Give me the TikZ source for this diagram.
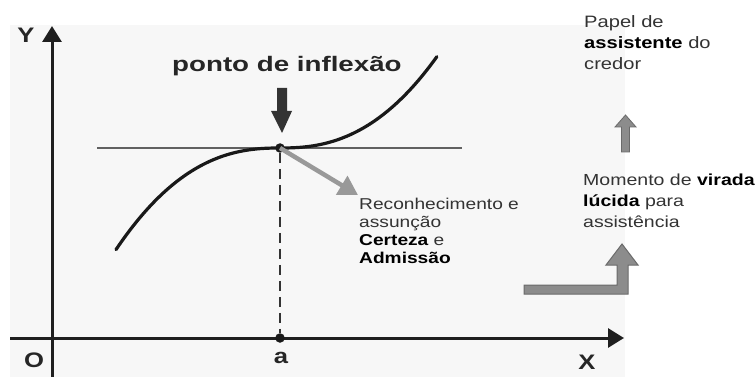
\documentclass[tikz,border=0pt]{standalone}
\usepackage{fontspec}
\usetikzlibrary{arrows.meta}
\newfontfamily\lbs[FakeStretch=1.22]{Liberation Sans}
\newfontfamily\lbt[FakeStretch=1.32]{Liberation Sans}
\definecolor{panel}{HTML}{F7F7F7}
\definecolor{txt}{HTML}{333333}
\definecolor{arrgray}{HTML}{999999}
\definecolor{bentfill}{HTML}{8C8C8C}
\definecolor{bentline}{HTML}{6A6A6A}
\begin{document}
\begin{tikzpicture}[x=1pt,y=-1pt,
  axis/.style={line width=3pt,color=black!88,-{Triangle[length=16pt,width=19pt]}},
  dot/.style={circle,fill=black!90,inner sep=0pt,minimum size=9.5pt},
  axlabel/.style={font=\lbs\bfseries\fontsize{21}{21}\selectfont,text=black!85,inner sep=0pt},
  rtext/.style={font=\lbs\fontsize{16.5}{21}\selectfont,text=txt,align=left,inner sep=0pt,anchor=north west},
  ltext/.style={font=\lbs\fontsize{15.7}{18}\selectfont,text=txt,align=left,inner sep=0pt,anchor=north west},
  blockarrow/.style={fill=bentfill,draw=bentline,line width=1pt}
]
\useasboundingbox (0,0) rectangle (755,377);
\fill[panel] (10,25) rectangle (625,377);

% axes
\coordinate (ybot) at (52,377);
\coordinate (ytop) at (52,26);
\coordinate (xl) at (10,338);
\coordinate (xr) at (624,338);
\draw[axis] (ybot) -- (ytop);
\draw[axis] (xl) -- (xr);
\node[axlabel] (Ylab) at (26,35) {Y};
\node[axlabel] (Olab) at (34,360) {O};
\node[axlabel] (Xlab) at (587,362) {X};
\node[axlabel] (alab) at (281,358) {a};

% tangent line
\coordinate (tl) at (97,148);
\coordinate (tr) at (462,148);
\draw[line width=2.6pt,color=black!62] (tl) -- (tr);

% curve
\draw[line width=3.2pt,color=black!90,line cap=round]
  plot[domain=-1.64:1.57,samples=120,smooth]
  ({280+100*\x},{148-31*sign(\x)*(abs(\x)+0.0001)^2.4});

% points
\node[dot] (P) at (280,148) {};
\node[dot] (A) at (280,338) {};
\draw[line width=2.6pt,color=black!80,dash pattern=on 10pt off 6pt] (P) -- (A);

% title and dark down arrow
\node[font=\lbt\bfseries\fontsize{21}{21}\selectfont,text=black!85,inner sep=0pt,anchor=base west] (title) at (172,72) {ponto de inflexão};
\fill[black!80] (277,88) -- (287,88) -- (287,111) -- (292,111) -- (282,133) -- (271,111) -- (277,111) -- cycle;

% gray arrow from inflection point
\coordinate (gtip) at (358,195);
\draw[line width=4.5pt,color=arrgray,-{Triangle[length=19pt,width=21pt]}] (P.center) -- (gtip);

\node[ltext] (rec) at (359,197.5) {Reconhecimento e\\assunção\\\textcolor{black}{\bfseries Certeza} e\\\textcolor{black}{\bfseries Admissão}};

% right column
\node[rtext] (papel) at (584,15) {Papel de\\\textcolor{black}{\bfseries assistente} do\\credor};
\node[rtext,font=\lbs\fontsize{16}{21}\selectfont] (momento) at (583,174) {Momento de \textcolor{black}{\bfseries virada}\\\textcolor{black}{\bfseries lúcida} para\\assistência};

% small up arrow
\filldraw[blockarrow,line width=0.8pt] (621.5,152) -- (629.5,152) -- (629.5,127) -- (636,127) -- (625.5,115) -- (615,127) -- (621.5,127) -- cycle;

% bent arrow
\filldraw[blockarrow] (524,285) -- (617,285) -- (617,265) -- (606,265) -- (622,244) -- (638,265) -- (628,265) -- (628,294) -- (524,294) -- cycle;
\end{tikzpicture}
\end{document}
